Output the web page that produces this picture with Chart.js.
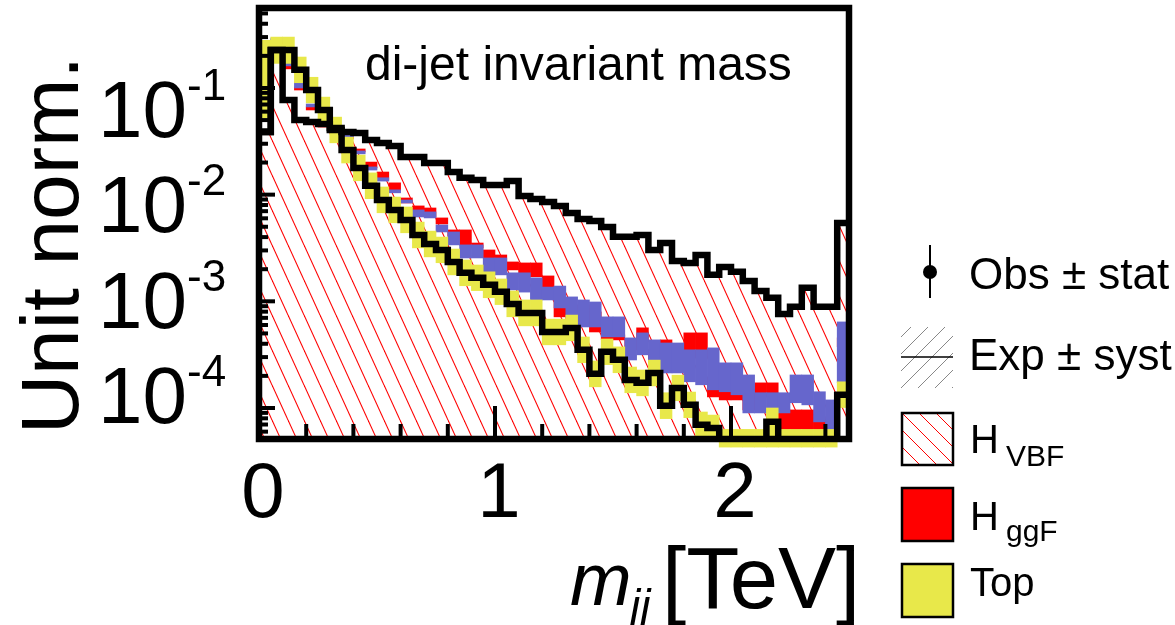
<!DOCTYPE html>
<html><head><meta charset="utf-8">
<script src="https://cdn.jsdelivr.net/npm/chart.js@4.4.1/dist/chart.umd.min.js"></script>
<style>html,body{margin:0;padding:0;background:#fff;}#wrap{width:1175px;height:625px;position:relative;}</style>
</head><body><div id="wrap"><canvas id="c" width="1175" height="625"></canvas></div>
<script>
// ---- bins (TeV) ----
const binEdges = [0,0.05,0.1,0.15,0.2,0.25,0.3,0.35,0.4,0.45,0.5,0.55,0.6,0.65,0.7,0.75,0.8,0.85,0.9,0.95,
  1,1.05,1.1,1.15,1.2,1.25,1.3,1.35,1.4,1.45,1.5,1.55,1.6,1.65,1.7,1.75,1.8,1.85,1.9,1.95,
  2,2.05,2.1,2.15,2.2,2.25,2.3,2.35,2.4,2.45,2.5];
// ---- H_VBF (hatched, black outline) ----
const vbfVals = [0.0387,0.227,0.0772,0.05,0.048,0.046,0.0422,0.0387,0.0379,0.0326,
  0.0305,0.0286,0.0225,0.0225,0.0198,0.0198,0.0163,0.0144,0.0137,0.0123,
  0.0123,0.0134,0.00973,0.00912,0.00855,0.00784,0.00674,0.00591,0.00567,0.00498,
  0.00402,0.00402,0.00419,0.00303,0.00352,0.00239,0.00229,0.00272,0.00177,0.0021,
  0.00189,0.00155,0.00125,0.00108,0.00076,0.00089,0.00134,0.00089,0.00089,0.00543];
// ---- Top (black line + yellow band); 1e-6 = empty bin (below axis) ----
const topVals = [0.0387,0.227,0.227,0.148,0.0958,0.0622,0.0404,0.0262,0.0178,0.0121,
  0.00892,0.00719,0.0058,0.00419,0.00345,0.00303,0.00234,0.00185,0.00166,0.00143,
  0.00123,0.000945,0.000778,0.000778,0.000516,0.000516,0.000563,0.000351,0.000209,0.000336,
  0.000283,0.000183,0.000172,0.000213,0.000105,0.000154,0.000107,0.0000695,0.000065,1e-6,
  1e-6,1e-6,1e-6,0.0000741,1e-6,1e-6,1e-6,1e-6,1e-6,0.000133];
const topLo = [0.052,0.17,0.17,0.112,0.0725,0.0471,0.0306,0.0198,0.0135,0.00917,
  0.00676,0.00545,0.00439,0.00317,0.00261,0.0023,0.00177,0.0014,0.00126,0.00108,
  0.000932,0.000716,0.000589,0.000589,0.000391,0.000391,0.000427,0.000266,0.000158,0.000255,
  0.000214,0.000139,0.00013,0.000161,0.0000795,0.000117,0.0000811,0.0000527,0.0000492,0.000043,
  0.000043,0.000043,0.000043,0.000043,0.000043,0.000043,0.000043,0.000043,0.000043,0.000101];
const topHi = [0.28,0.3,0.3,0.195,0.126,0.0821,0.0533,0.0346,0.0235,0.016,
  0.0118,0.00949,0.00766,0.00553,0.00455,0.004,0.00309,0.00244,0.00219,0.00189,
  0.00162,0.00125,0.00103,0.00103,0.000681,0.000681,0.000743,0.000463,0.000276,0.000444,
  0.000374,0.000242,0.000227,0.000281,0.000139,0.000203,0.000141,0.0000917,0.0000858,0.000063,
  0.000063,0.000063,0.000063,0.0001,0.000063,0.000063,0.000063,0.000063,0.000063,0.000176];
// ---- H_ggF (red band) ----
const ggfLo = [0.119,0.258,0.151,0.0957,0.0622,0.043,0.0371,0.0333,0.0251,0.0178,
  0.0137,0.0108,0.00836,0.00703,0.00618,0.00531,0.0041,0.00338,0.00316,0.00255,
  0.00234,0.00197,0.0017,0.0017,0.00128,0.000715,0.000564,0.000698,0.000516,0.000435,
  0.000435,0.000351,0.000417,0.00027,0.000265,0.000282,0.000295,0.000295,0.000127,0.000119,
  0.000119,0.0000959,0.000127,0.000127,0.0000624,0.0000624,0.0000624,0.0000624,0.0000597,0.000374];
const ggfHi = [0.132,0.282,0.161,0.102,0.0664,0.047,0.0404,0.0355,0.0268,0.0202,
  0.0163,0.0129,0.00931,0.00784,0.0075,0.00605,0.00467,0.00467,0.00352,0.00303,
  0.00272,0.00234,0.00229,0.00229,0.00173,0.000966,0.000746,0.000925,0.000796,0.000516,
  0.000484,0.000435,0.000564,0.000351,0.000435,0.000351,0.000506,0.000506,0.000195,0.000176,
  0.000176,0.000133,0.000172,0.000172,0.0000959,0.0000959,0.0000959,0.0000826,0.0000774,0.000454];
// ---- third background (blue band, legend entry cropped) ----
const blueLo = [0.102,0.275,0.161,0.1,0.0664,0.046,0.0396,0.0348,0.0241,0.017,
  0.0134,0.0104,0.00836,0.00618,0.00605,0.00447,0.00338,0.00255,0.00255,0.00177,
  0.00177,0.00128,0.00122,0.00103,0.00103,0.000867,0.000715,0.000575,0.000575,0.000464,
  0.000464,0.000282,0.000315,0.00027,0.000213,0.000213,0.000176,0.000165,0.000148,0.000142,
  0.000133,0.0000899,0.0000899,0.0000899,0.0000899,0.000112,0.000107,0.0000741,0.0000624,0.000172];
const blueHi = [0.119,0.294,0.171,0.114,0.0708,0.0491,0.0422,0.0371,0.0257,0.0182,
  0.0144,0.0111,0.00891,0.00719,0.00689,0.0052,0.00447,0.00338,0.00338,0.00255,
  0.00255,0.00185,0.00185,0.00166,0.00136,0.00139,0.0011,0.00103,0.000986,0.000715,
  0.000715,0.000454,0.000506,0.000435,0.000407,0.000407,0.000351,0.000351,0.000366,0.000265,
  0.000265,0.000204,0.000139,0.000139,0.000139,0.000204,0.000204,0.000142,0.000119,0.000641];
// ---- axes / ticks ----
const yDecadeExps = ['-1','-2','-3','-4'];
const xTickValues = [0,1,2];
const xTickLabels = ['0','1','2'];
const xMinorTicks = [0.2,0.4,0.6,0.8,1.2,1.4,1.6,1.8,2.2,2.4];
const xMajorTicks = [1,2];

const FONT = '"Liberation Sans", Arial, Helvetica, sans-serif';

function steps(vals){
  const d = vals.map((v,i)=>({x:binEdges[i], y:v}));
  d.push({x:binEdges[vals.length], y:vals[vals.length-1]});
  return d;
}
function band(lo,hi){
  return lo.map((l,i)=>({x:(binEdges[i]+binEdges[i+1])/2, y:[l,hi[i]]}));
}
function makeHatch(w,h,color){
  const c=document.createElement('canvas'); c.width=w; c.height=h;
  const g=c.getContext('2d'); g.strokeStyle=color; g.lineWidth=1.1;
  for(let k=-1;k<=1;k++){ g.beginPath(); g.moveTo(k*w,0); g.lineTo(k*w+w,h); g.stroke(); }
  return c;
}
const canvas=document.getElementById('c');
const hatchPattern = canvas.getContext('2d').createPattern(makeHatch(16,35,'#ff0000'),'repeat');

const decor = {
  id:'decor',
  afterDraw(chart){
    const {ctx, chartArea:a, scales:{x,y}} = chart;
    ctx.save();
    ctx.strokeStyle='#000'; ctx.lineCap='butt'; ctx.lineWidth=4;
    const seg=(x1,y1,x2,y2)=>{ctx.beginPath();ctx.moveTo(x1,y1);ctx.lineTo(x2,y2);ctx.stroke();};
    for(let e=-5;e<=0;e++) for(let m=1;m<=9;m++){
      const v=m*Math.pow(10,e); if(v<y.min||v>y.max) continue;
      const py=y.getPixelForValue(v); seg(a.left,py,a.left+(m===1?16:9),py);
    }
    xMinorTicks.forEach(v=>{const px=x.getPixelForValue(v); seg(px,a.bottom,px,a.bottom-15);});
    xMajorTicks.forEach(v=>{const px=x.getPixelForValue(v); seg(px,a.bottom,px,a.bottom-33);});
    // frame
    ctx.lineWidth=6.5; ctx.strokeRect(a.left,a.top,a.right-a.left,a.bottom-a.top);
    // y tick labels
    ctx.fillStyle='#000'; ctx.textBaseline='alphabetic'; ctx.textAlign='left';
    yDecadeExps.forEach((ex,j)=>{
      const base=137+95.3*j;
      ctx.font='80px '+FONT; ctx.fillText('10',98,base);
      ctx.font='44px '+FONT; ctx.fillText(ex,187,base-37);
    });
    // x tick labels
    ctx.textAlign='center'; ctx.font='78px '+FONT;
    xTickValues.forEach((v,i)=>ctx.fillText(xTickLabels[i], x.getPixelForValue(v)+4, 517));
    // y title
    ctx.save(); ctx.translate(78,245); ctx.rotate(-Math.PI/2);
    ctx.font='82px '+FONT; ctx.textAlign='center'; ctx.fillText('Unit norm.',0,0); ctx.restore();
    // x title
    ctx.textAlign='left';
    ctx.font='italic 74px '+FONT; ctx.fillText('m',570,605);
    ctx.font='italic 46px '+FONT; ctx.fillText('jj',630,622);
    ctx.font='87px '+FONT; ctx.fillText('[TeV]',662,608);
    // plot label
    ctx.font='48px '+FONT; ctx.fillText('di-jet invariant mass',365,80);
    // legend: Obs
    ctx.lineWidth=2; seg(930,245,930,298);
    ctx.beginPath(); ctx.arc(930,272,7,0,2*Math.PI); ctx.fill();
    ctx.font='44px '+FONT; ctx.fillText('Obs \u00b1 stat',969,289);
    // Exp
    ctx.save(); ctx.beginPath(); ctx.rect(901,327,52,61); ctx.clip();
    ctx.strokeStyle='#888'; ctx.lineWidth=1;
    for(let k=-4;k<8;k++){ seg(901+k*17,388,901+k*17+61,327); }
    ctx.restore();
    ctx.strokeStyle='#000'; ctx.lineWidth=1.5; seg(901,357,953,357);
    ctx.fillText('Exp \u00b1 syst',969,370);
    // H_VBF
    ctx.save(); ctx.beginPath(); ctx.rect(902,413,51,52); ctx.clip();
    ctx.strokeStyle='#ff0000'; ctx.lineWidth=1;
    for(let k=-4;k<5;k++){ seg(902+k*17,413,902+k*17+52,465); }
    ctx.restore();
    ctx.strokeStyle='#000'; ctx.lineWidth=2.5; ctx.strokeRect(902,413,51,52);
    ctx.font='40px '+FONT; ctx.fillText('H',970,453);
    ctx.font='30px '+FONT; ctx.fillText('VBF',1006,466);
    // H_ggF
    ctx.fillStyle='#ff0000'; ctx.fillRect(902,488,51,53);
    ctx.strokeRect(902,488,51,53); ctx.fillStyle='#000';
    ctx.font='40px '+FONT; ctx.fillText('H',970,530);
    ctx.font='30px '+FONT; ctx.fillText('ggF',1006,541);
    // Top
    ctx.fillStyle='#e8e84a'; ctx.fillRect(902,564,51,53);
    ctx.strokeRect(902,564,51,53); ctx.fillStyle='#000';
    ctx.font='40px '+FONT; ctx.fillText('Top',970,596);
    ctx.restore();
  }
};

new Chart(canvas, {
  type:'bar',
  data:{datasets:[
    {type:'line', label:'H_VBF', data:steps(vbfVals), stepped:'before', borderColor:'#000', borderWidth:6.5,
     backgroundColor:hatchPattern, fill:'start', pointRadius:0, borderJoinStyle:'miter', order:1},
    {type:'line', label:'Top', data:steps(topVals), stepped:'before', borderColor:'#000', borderWidth:6.5,
     fill:false, pointRadius:0, borderJoinStyle:'miter', order:2},
    {type:'bar', label:'Top band', data:band(topLo,topHi), backgroundColor:'#e8e84a', grouped:false,
     barPercentage:1, categoryPercentage:1, borderWidth:0, order:3, clip:false},
    {type:'bar', label:'Other', data:band(blueLo,blueHi), backgroundColor:'#6666cc', grouped:false,
     barPercentage:1, categoryPercentage:1, borderWidth:0, order:4},
    {type:'bar', label:'H_ggF', data:band(ggfLo,ggfHi), backgroundColor:'#ff0000', grouped:false,
     barPercentage:1, categoryPercentage:1, borderWidth:0, order:5}
  ]},
  options:{
    responsive:false, animation:false, events:[],
    layout:{padding:{left:259, top:8, right:326, bottom:186}},
    scales:{
      x:{type:'linear', min:0, max:2.5, offset:false, display:false},
      y:{type:'logarithmic', min:5.12e-5, max:0.562, display:false}
    },
    plugins:{legend:{display:false}, tooltip:{enabled:false}, title:{display:false},
      filler:{drawTime:'beforeDatasetsDraw', propagate:false}}
  },
  plugins:[decor]
});
</script></body></html>
